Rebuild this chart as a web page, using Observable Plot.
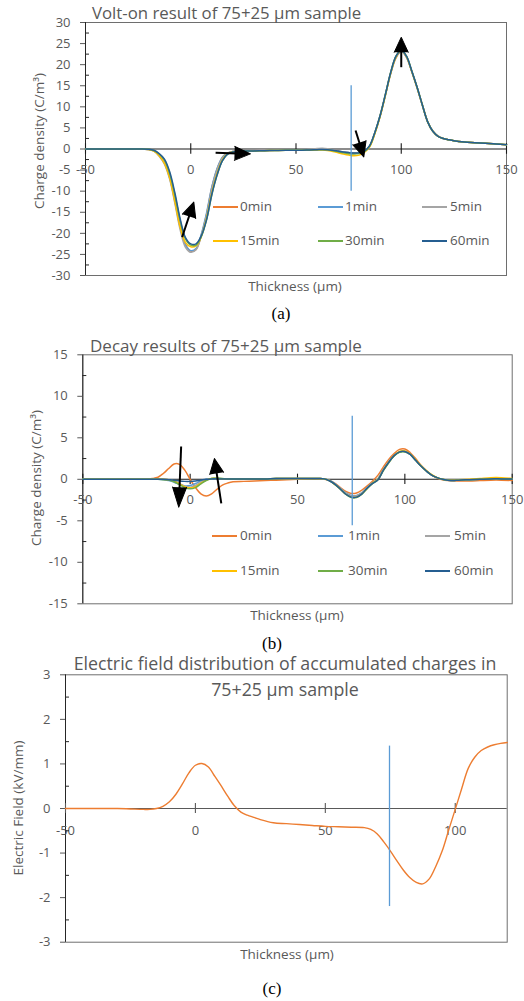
<!DOCTYPE html>
<html><head><meta charset="utf-8">
<script src="https://cdn.jsdelivr.net/npm/d3@7"></script>
<script src="https://cdn.jsdelivr.net/npm/@observablehq/plot@0.6"></script>
<style>
body{margin:0;background:#fff;}
#page{position:relative;width:524px;height:1001px;overflow:hidden;background:#fff;}
.abs{position:absolute;white-space:nowrap;line-height:1;}
.wrap{position:absolute;left:0;}
</style></head><body><div id="page"></div>
<script>
// ---------- data ----------
const thickness = [-50,-40,-30,-25,-20,-17.5,-15,-12.5,-10,-7.5,-5,-2.5,0,2.5,5,7.5,10,12.5,15,17.5,20,25,30,35,40,45,50,55,60,62.5,65,67.5,70,72.5,75,77.5,80,82.5,85,87.5,90,92.5,95,97.5,100,102.5,105,107.5,110,112.5,115,117.5,120,122.5,125,130,135,140,145,150];
const seriesNames = ["0min","1min","5min","15min","30min","60min"];
const seriesColors = ["#ED7D31","#5B9BD5","#A5A5A5","#FFC000","#70AD47","#255E91"];

// (a) volt-on charge density, C/m3
const voltOn0min  = [0,0,0,0,-0.1,-0.4,-1.4,-3.0,-6.4,-12.0,-18.2,-22.6,-24.2,-23.8,-20.5,-15.5,-9.2,-4.8,-2.0,-1.0,-0.6,-0.45,-0.4,-0.35,-0.3,-0.3,-0.25,-0.2,-0.1,-0.05,-0.1,-0.3,-0.5,-0.75,-0.95,-1.05,-0.95,-0.5,0.7,3.8,7.8,12.8,17.9,21.6,23.1,21.7,18.3,14.5,10.4,6.5,4.2,3.0,2.5,2.2,1.95,1.65,1.5,1.35,1.2,1.0];
const voltOn1min  = [0,0,0,0,-0.1,-0.45,-1.5,-3.3,-6.8,-12.4,-18.5,-22.8,-24.1,-23.6,-20.2,-15.2,-9.0,-4.6,-2.0,-1.0,-0.6,-0.45,-0.4,-0.35,-0.3,-0.3,-0.25,-0.2,-0.05,0.0,-0.1,-0.3,-0.5,-0.75,-0.9,-1.0,-0.9,-0.45,0.75,3.9,7.9,12.9,18.0,21.8,23.2,21.8,18.4,14.6,10.4,6.5,4.2,3.0,2.5,2.2,1.95,1.65,1.5,1.35,1.2,1.0];
const voltOn5min  = [0,0,0,0,-0.1,-0.5,-1.7,-3.6,-7.2,-13.0,-19.2,-23.3,-24.5,-23.9,-20.6,-15.8,-9.6,-5.0,-2.2,-1.0,-0.6,-0.4,-0.35,-0.3,-0.25,-0.2,-0.15,-0.1,0.1,0.15,0.05,-0.2,-0.45,-0.7,-0.85,-0.95,-0.85,-0.4,0.8,4.0,8.0,13.0,18.1,21.9,23.3,21.9,18.5,14.7,10.5,6.6,4.3,3.1,2.5,2.2,1.95,1.65,1.5,1.35,1.2,1.0];
const voltOn15min = [0,0,0,0,-0.1,-0.5,-1.6,-3.4,-6.9,-12.6,-18.6,-22.2,-23.2,-23.0,-20.8,-16.4,-10.4,-5.8,-2.6,-1.1,-0.65,-0.5,-0.45,-0.4,-0.35,-0.3,-0.3,-0.3,-0.25,-0.25,-0.35,-0.6,-0.9,-1.2,-1.45,-1.6,-1.45,-0.8,0.5,3.7,7.8,12.8,18.0,21.8,23.4,21.9,18.4,14.6,10.5,6.5,4.2,3.0,2.5,2.2,1.95,1.65,1.5,1.35,1.2,1.0];
const voltOn30min = [0,0,0,0,-0.05,-0.35,-1.2,-2.6,-5.8,-11.0,-17.0,-21.3,-22.8,-22.8,-20.8,-16.8,-10.9,-6.2,-2.8,-1.2,-0.7,-0.5,-0.45,-0.4,-0.35,-0.3,-0.3,-0.25,-0.2,-0.15,-0.2,-0.4,-0.65,-0.9,-1.1,-1.2,-1.1,-0.6,0.7,3.9,8.0,13.0,18.2,22.0,23.5,22.0,18.5,14.7,10.5,6.5,4.2,3.0,2.5,2.2,1.95,1.65,1.5,1.35,1.2,1.0];
const voltOn60min = [0,0,0,0,-0.05,-0.3,-1.1,-2.4,-5.4,-10.5,-16.6,-21.0,-22.5,-22.5,-20.6,-16.8,-10.8,-6.2,-2.8,-1.2,-0.7,-0.5,-0.45,-0.4,-0.35,-0.3,-0.3,-0.25,-0.15,-0.1,-0.15,-0.3,-0.5,-0.7,-0.85,-0.95,-0.9,-0.5,0.8,4.0,8.0,13.0,18.2,22.0,23.5,22.0,18.5,14.7,10.5,6.5,4.2,3.0,2.5,2.2,1.95,1.65,1.5,1.35,1.2,1.0];

// (b) decay charge density, C/m3
const decay0min  = [0,0,0.05,0.05,0.05,0.1,0.25,0.7,1.3,1.85,1.8,1.1,0.0,-1.0,-1.75,-2.0,-1.75,-1.2,-0.7,-0.45,-0.3,-0.25,-0.2,-0.15,-0.1,-0.05,0,0.05,0.05,0,-0.15,-0.5,-1.0,-1.45,-1.7,-1.65,-1.3,-0.8,-0.2,0.5,1.5,2.4,3.1,3.6,3.65,3.2,2.5,1.7,1.05,0.5,0.15,-0.05,-0.15,-0.2,-0.2,-0.2,-0.15,-0.1,-0.1,-0.15];
const decay1min  = [0,0,0,0,0,0,0,-0.05,-0.15,-0.35,-0.6,-0.8,-0.75,-0.5,-0.2,0,0.05,0.05,0.05,0.05,0.05,0.05,0.05,0.05,0.1,0.1,0.1,0.1,0.1,0.05,-0.15,-0.55,-1.1,-1.65,-1.95,-1.95,-1.6,-1.0,-0.4,0.1,1.2,2.1,2.85,3.3,3.35,3.0,2.3,1.6,1.0,0.5,0.2,0,-0.1,-0.15,-0.1,-0.05,0,0.05,0.05,0.05];
const decay5min  = [0,0,0,0,0,0,0,0,-0.05,-0.2,-0.5,-0.85,-0.95,-0.75,-0.35,-0.05,0.1,0.1,0.05,0.05,0.05,0.05,0.05,0.05,0.1,0.1,0.1,0.1,0.1,0.05,-0.15,-0.6,-1.15,-1.7,-2.0,-2.0,-1.65,-1.05,-0.45,0.05,1.15,2.1,2.85,3.3,3.35,3.0,2.3,1.6,1.0,0.5,0.2,0,-0.1,-0.15,-0.1,-0.05,0,0.05,0.05,0.05];
const decay15min = [0,0,0,0,0,0,0,0,-0.05,-0.2,-0.55,-0.9,-1.05,-0.9,-0.45,-0.1,0.1,0.1,0.05,0.05,0.05,0.05,0.05,0.05,0.1,0.1,0.1,0.1,0.1,0.05,-0.2,-0.65,-1.2,-1.8,-2.15,-2.15,-1.75,-1.1,-0.45,0.0,1.1,2.05,2.85,3.35,3.4,3.05,2.35,1.65,1.05,0.55,0.2,0,-0.1,-0.1,-0.05,0,0.1,0.2,0.2,0.1];
const decay30min = [0,0,0,0,0,0,0,-0.05,-0.1,-0.3,-0.65,-1.0,-1.15,-1.0,-0.55,-0.15,0.1,0.15,0.1,0.05,0.05,0.05,0.05,0.05,0.1,0.1,0.1,0.1,0.1,0.05,-0.2,-0.65,-1.2,-1.8,-2.2,-2.2,-1.8,-1.1,-0.5,-0.05,1.05,2.0,2.8,3.25,3.3,3.0,2.3,1.6,1.0,0.5,0.2,0,-0.1,-0.15,-0.1,-0.05,0,0.05,0.05,0.05];
const decay60min = [0,0,0,0,0,0,0,0,-0.05,-0.1,-0.2,-0.25,-0.25,-0.2,-0.1,0,0.05,0.05,0.05,0.05,0.05,0.05,0.05,0.05,0.1,0.1,0.1,0.1,0.1,0.05,-0.2,-0.6,-1.2,-1.8,-2.15,-2.15,-1.75,-1.05,-0.5,-0.05,1.1,2.05,2.85,3.3,3.35,3.0,2.3,1.6,1.0,0.5,0.2,0,-0.1,-0.15,-0.1,-0.05,0,0.05,0.05,0.05];

// (c) electric field, kV/mm
const fieldThickness = [-50,-40,-30,-25,-20,-17.5,-15,-12.5,-10,-7.5,-5,-2.5,0,2.5,5,7.5,10,12.5,15,17.5,20,22.5,25,30,35,40,45,50,55,60,65,67.5,70,72.5,75,77.5,80,82.5,85,87.5,90,92.5,95,97.5,100,102.5,105,107.5,110,112.5,115,117.5,120];
const fieldValues = [0,0,0,-0.01,-0.02,-0.02,0,0.05,0.15,0.32,0.55,0.8,0.97,1.01,0.93,0.72,0.5,0.27,0.06,-0.08,-0.15,-0.2,-0.25,-0.32,-0.34,-0.36,-0.38,-0.4,-0.41,-0.42,-0.43,-0.47,-0.57,-0.75,-0.95,-1.17,-1.38,-1.55,-1.66,-1.69,-1.58,-1.3,-0.95,-0.48,-0.02,0.45,0.9,1.15,1.3,1.38,1.43,1.46,1.48];

// ticks
const xTicksAB = [-50,0,50,100,150];
const xTicksC = [-50,0,50,100];
const yTicksA = [-30,-25,-20,-15,-10,-5,0,5,10,15,20,25,30];
const yMinorA = [-27.5,-22.5,-17.5,-12.5,-7.5,-2.5,2.5,7.5,12.5,17.5,22.5,27.5];
const yTicksB = [-15,-10,-5,0,5,10,15];
const yMinorB = [-12.5,-7.5,-2.5,2.5,7.5,12.5];
const yTicksC = [-3,-2,-1,0,1,2,3];
const yMinorC = [-2.5,-1.5,-0.5,0.5,1.5,2.5];

// annotations (data units)
const dividerA = [{x: 76.2, y1: -10, y2: 15}];
const dividerB = [{x: 75.5, y1: -5.6, y2: 7.6}];
const dividerC = [{x: 74.7, y1: -2.2, y2: 1.4}];
const arrowsA = [
  {x1: -4.1, y1: -20.9, x2: 1.45, y2: -12.6, len: 15},
  {x1: 11.8, y1: -0.9, x2: 28.4, y2: -1.15, len: 16},
  {x1: 78.3, y1: 4.4, x2: 82.2, y2: -1.9, len: 15},
  {x1: 100, y1: 19.4, x2: 100, y2: 26.5, len: 15}
];
const arrowsB = [
  {x1: -4.2, y1: 3.95, x2: -5.3, y2: -3.36, len: 20},
  {x1: 14.5, y1: -2.9, x2: 11.3, y2: 2.5, len: 15}
];

// ---------- drawing ----------
const FONT = "'Open Sans', sans-serif";
const GRAY = "#595959";
const page = document.getElementById("page");

function addText(str, x, y, o = {}) {
  const d = document.createElement("div");
  d.className = "abs";
  d.textContent = str;
  d.style.left = x + "px";
  d.style.top = y + "px";
  d.style.fontSize = (o.size || 13) + "px";
  d.style.color = o.color || GRAY;
  d.style.fontFamily = o.font || FONT;
  const tx = o.anchor === "middle" ? "-50%" : "0";
  d.style.transform = `translate(${tx}, -50%)` + (o.rotate ? ` rotate(${o.rotate}deg)` : "");
  page.appendChild(d);
}

function addLegend(rows, swatchX, textX) {
  seriesNames.forEach((n, i) => {
    const r = Math.floor(i / 3), c = i % 3;
    const s = document.createElement("div");
    s.className = "abs";
    s.style.left = swatchX[c] + "px";
    s.style.top = (rows[r] - 1) + "px";
    s.style.width = "25px";
    s.style.height = "2px";
    s.style.background = seriesColors[i];
    page.appendChild(s);
    addText(n, textX[c], rows[r], {size: 13.5});
  });
}

function longData(xs, arrays) {
  const out = [];
  arrays.forEach((arr, i) => {
    if (arr.length !== xs.length) throw new Error("length mismatch " + seriesNames[i] + " " + arr.length);
    arr.forEach((v, j) => out.push({x: xs[j], y: v, s: seriesNames[i]}));
  });
  return out;
}

function buildPanel(cfg) {
  const W = 524;
  const base = {
    width: W, height: cfg.height,
    marginLeft: cfg.ml, marginRight: cfg.mr, marginTop: cfg.mt, marginBottom: cfg.mb,
    x: {domain: cfg.xDomain, axis: null},
    y: {domain: cfg.yDomain},
    color: {domain: seriesNames, range: seriesColors},
    style: {fontFamily: FONT, fontSize: "13px", color: GRAY, background: "transparent"}
  };
  const pre = Plot.plot({...base, marks: [Plot.frame()]});
  const sx = pre.scale("x"), sy = pre.scale("y");
  const innerW = W - cfg.ml - cfg.mr;
  const arrows = (cfg.arrows || []).map(a => {
    const px1 = sx.apply(a.x1), py1 = sy.apply(a.y1), px2 = sx.apply(a.x2), py2 = sy.apply(a.y2);
    const dx = px2 - px1, dy = py2 - py1, L = Math.hypot(dx, dy);
    const k = (a.len - 3) / L;
    return {...a, angle: Math.atan2(dx, -dy) * 180 / Math.PI,
      bx: sx.invert(px2 - dx * k), by: sy.invert(py2 - dy * k)};
  });
  const curveMark = cfg.singleColor
    ? Plot.line(cfg.data, {x: "x", y: "y", stroke: cfg.singleColor, curve: "catmull-rom", strokeWidth: 1.4})
    : Plot.line(cfg.data, {x: "x", y: "y", z: "s", stroke: "s", curve: "catmull-rom", strokeWidth: 1.5});
  const marks = [
    Plot.frame({stroke: "#6e6e6e"}),
    Plot.ruleX([cfg.xDomain[0]], {stroke: "#262626"}),
    Plot.ruleY([0], {stroke: cfg.zeroColor, strokeWidth: 1.1}),
    Plot.ruleX(cfg.xTicks, {x: d => d, y1: -cfg.tickHalf, y2: cfg.tickHalf, stroke: cfg.zeroColor, strokeWidth: 1.1}),
    Plot.text(cfg.xTicks, {x: d => d, y: 0, dy: cfg.labelDy, text: d => String(d), fill: GRAY, fontSize: 13}),
    Plot.axisY(cfg.yTicks, {anchor: "left", tickSize: 5, tickPadding: 10, tickFormat: d => String(d), fontSize: 13, color: GRAY, label: null}),
    Plot.tickY(cfg.yMinor, {y: d => d, insetRight: innerW - 4, stroke: "#262626"}),
    curveMark,
    Plot.ruleX(cfg.divider, {x: "x", y1: "y1", y2: "y2", stroke: "#5B9BD5", strokeWidth: 1.3})
  ];
  arrows.forEach(a => {
    marks.push(Plot.link([a], {x1: "x1", y1: "y1", x2: "bx", y2: "by", stroke: "#000", strokeWidth: 2}));
    marks.push(Plot.vector([a], {x: "x2", y: "y2", rotate: "angle", length: a.len, r: 7, shape: "spike", anchor: "end", fill: "#000", fillOpacity: 1, stroke: "#000", strokeWidth: 1}));
  });
  const svg = Plot.plot({...base, marks});
  const wrap = document.createElement("div");
  wrap.className = "wrap";
  wrap.style.top = cfg.top + "px";
  wrap.appendChild(svg);
  page.appendChild(wrap);
}

const SERIF = "'Liberation Serif', 'Times New Roman', serif";

// Panel (a)
buildPanel({
  top: 0, height: 300, ml: 85, mr: 18, mt: 22, mb: 25,
  xDomain: [-50, 150], yDomain: [-30, 30],
  xTicks: xTicksAB, yTicks: yTicksA, yMinor: yMinorA, tickHalf: 1.25, labelDy: 21, zeroColor: "#1a1a1a",
  divider: dividerA, arrows: arrowsA,
  data: longData(thickness, [voltOn0min, voltOn1min, voltOn5min, voltOn15min, voltOn30min, voltOn60min])
});
addText("Volt-on result of 75+25 µm sample", 92, 12.5, {size: 16.8});
addText("Thickness (µm)", 295, 287, {anchor: "middle", size: 13.5});
addText("Charge density (C/m³)", 40, 141, {anchor: "middle", size: 13.5, rotate: -90});
addText("(a)", 281, 313, {anchor: "middle", size: 17, color: "#000", font: SERIF});
addLegend([207, 241], [213, 318, 422], [240, 345, 450]);

// Panel (b)
buildPanel({
  top: 330, height: 298, ml: 82.3, mr: 12.3, mt: 24.3, mb: 24.7,
  xDomain: [-50, 150], yDomain: [-15, 15],
  xTicks: xTicksAB, yTicks: yTicksB, yMinor: yMinorB, tickHalf: 0.62, labelDy: 21, zeroColor: "#1a1a1a",
  divider: dividerB, arrows: arrowsB,
  data: longData(thickness, [decay0min, decay1min, decay5min, decay15min, decay30min, decay60min])
});
addText("Decay results of 75+25 µm sample", 90, 345, {size: 17});
addText("Thickness (µm)", 297, 616, {anchor: "middle", size: 13.5});
addText("Charge density (C/m³)", 37, 478, {anchor: "middle", size: 13.5, rotate: -90});
addText("(b)", 272, 643, {anchor: "middle", size: 17, color: "#000", font: SERIF});
addLegend([536, 571], [212, 318, 425], [240, 348, 454]);

// Panel (c)
buildPanel({
  top: 660, height: 302, ml: 65, mr: 17.3, mt: 14.3, mb: 20.3,
  xDomain: [-50, 120], yDomain: [-3, 3],
  xTicks: xTicksC, yTicks: yTicksC, yMinor: yMinorC, tickHalf: 0.11, labelDy: 22, zeroColor: "#595959",
  divider: dividerC, arrows: [],
  data: fieldThickness.map((x, i) => ({x, y: fieldValues[i]})),
  singleColor: "#ED7D31"
});
addText("Electric field distribution of accumulated charges in", 285, 664, {anchor: "middle", size: 17.8});
addText("75+25 µm sample", 285, 690, {anchor: "middle", size: 17.8});
addText("Thickness (µm)", 287, 955, {anchor: "middle", size: 13.5});
addText("Electric Field (kV/mm)", 19, 808, {anchor: "middle", size: 13.5, rotate: -90});
addText("(c)", 272, 988, {anchor: "middle", size: 17, color: "#000", font: SERIF});
</script></body></html>
